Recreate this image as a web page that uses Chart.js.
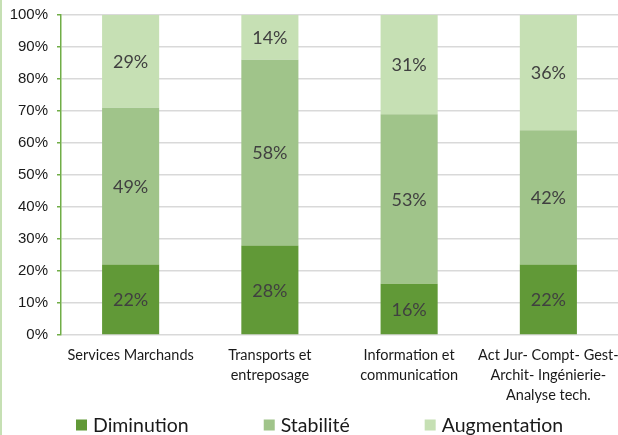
<!DOCTYPE html>
<html>
<head>
<meta charset="utf-8">
<script src="https://cdn.jsdelivr.net/npm/chart.js@4.4.1/dist/chart.umd.min.js"></script>
<style>
  html, body { margin: 0; padding: 0; background: #fff; }
  #wrap { width: 618px; height: 435px; position: relative; }
</style>
</head>
<body>
<div id="wrap"><canvas id="chart" width="618" height="435"></canvas></div>
<script>
// ─── DATA ──────────────────────────
const categories = [
    ['Services Marchands'],
    ['Transports et', 'entreposage'],
    ['Information et', 'communication'],
    ['Act Jur- Compt- Gest-', 'Archit- Ingénierie-', 'Analyse tech.']
];
const diminution = [22, 28, 16, 22];
const stabilite = [49, 58, 53, 42];
const augmentation = [29, 14, 31, 36];
const seriesNames = ['Diminution', 'Stabilité', 'Augmentation'];
const yTicks = [0, 10, 20, 30, 40, 50, 60, 70, 80, 90, 100];

const COLORS = ['#619937', '#a0c48a', '#c6e0b4'];
const TEXT_FONT = 'Lato, "Noto Sans", sans-serif';

// left stripe + white background
const backdrop = {
    id: 'backdrop',
    beforeDraw(chart) {
        const { ctx, width, height } = chart;
        ctx.save();
        ctx.fillStyle = '#fff';
        ctx.fillRect(0, 0, width, height);
        ctx.fillStyle = '#c6e0b4';
        ctx.fillRect(0, 0, 2, height);
        ctx.restore();
    }
};

// value labels centred in each segment
const segmentLabels = {
    id: 'segmentLabels',
    afterDatasetsDraw(chart) {
        const { ctx } = chart;
        ctx.save();
        ctx.font = `18px ${TEXT_FONT}`;
        ctx.fillStyle = '#404040';
        ctx.textAlign = 'center';
        ctx.textBaseline = 'middle';
        chart.data.datasets.forEach((ds, i) => {
            chart.getDatasetMeta(i).data.forEach((bar, j) => {
                const y = (bar.y + bar.base) / 2;
                ctx.fillText(ds.data[j] + '%', bar.x, y + 1);
            });
        });
        ctx.restore();
    }
};

// legend drawn by hand so the spacing matches
const bottomLegend = {
    id: 'bottomLegend',
    afterDraw(chart) {
        const { ctx } = chart;
        const box = 11, gapBox = 6, gapItem = 75, cy = 425;
        ctx.save();
        ctx.font = `19.5px ${TEXT_FONT}`;
        ctx.textBaseline = 'middle';
        let x = 76;
        chart.data.datasets.forEach(ds => {
            ctx.fillStyle = ds.backgroundColor;
            ctx.fillRect(x, cy - box / 2, box, box);
            x += box + gapBox;
            ctx.fillStyle = '#1a1a1a';
            ctx.fillText(ds.label, x, cy + 1);
            x += ctx.measureText(ds.label).width + gapItem;
        });
        ctx.restore();
    }
};

new Chart(document.getElementById('chart'), {
    type: 'bar',
    data: {
        labels: categories,
        datasets: [diminution, stabilite, augmentation].map((data, i) => ({
            label: seriesNames[i],
            data,
            backgroundColor: COLORS[i],
            borderWidth: 0,
            categoryPercentage: 1,
            barPercentage: 0.41
        }))
    },
    options: {
        responsive: false,
        animation: false,
        devicePixelRatio: 1,
        layout: { padding: { top: 15, bottom: 30, left: 0, right: -4 } },
        plugins: {
            legend: { display: false },
            tooltip: { enabled: false }
        },
        scales: {
            x: {
                stacked: true,
                grid: { display: false, drawTicks: false },
                border: { display: false },
                ticks: {
                    color: '#1a1a1a',
                    font: { family: TEXT_FONT, size: 14.5, lineHeight: 1.35 },
                    padding: 11,
                    maxRotation: 0,
                    autoSkip: false
                },
                afterFit: s => { s.height = 70; s.paddingLeft = 0; s.paddingRight = 0; }
            },
            y: {
                stacked: true,
                min: 0,
                max: 100,
                afterBuildTicks: s => { s.ticks = yTicks.map(v => ({ value: v })); },
                grid: { color: '#d9d9d9', lineWidth: 1.5, tickColor: '#70ad47', tickLength: 4, tickWidth: 1.5 },
                border: { color: '#70ad47', width: 1.5 },
                ticks: {
                    color: '#1a1a1a',
                    font: { family: '"Liberation Sans", Arial, sans-serif', size: 15 },
                    padding: 9,
                    callback: v => v + '%'
                },
                afterFit: s => { s.width = 61; s.paddingTop = 0; s.paddingBottom = 0; }
            }
        }
    },
    plugins: [backdrop, segmentLabels, bottomLegend]
});
</script>
</body>
</html>
